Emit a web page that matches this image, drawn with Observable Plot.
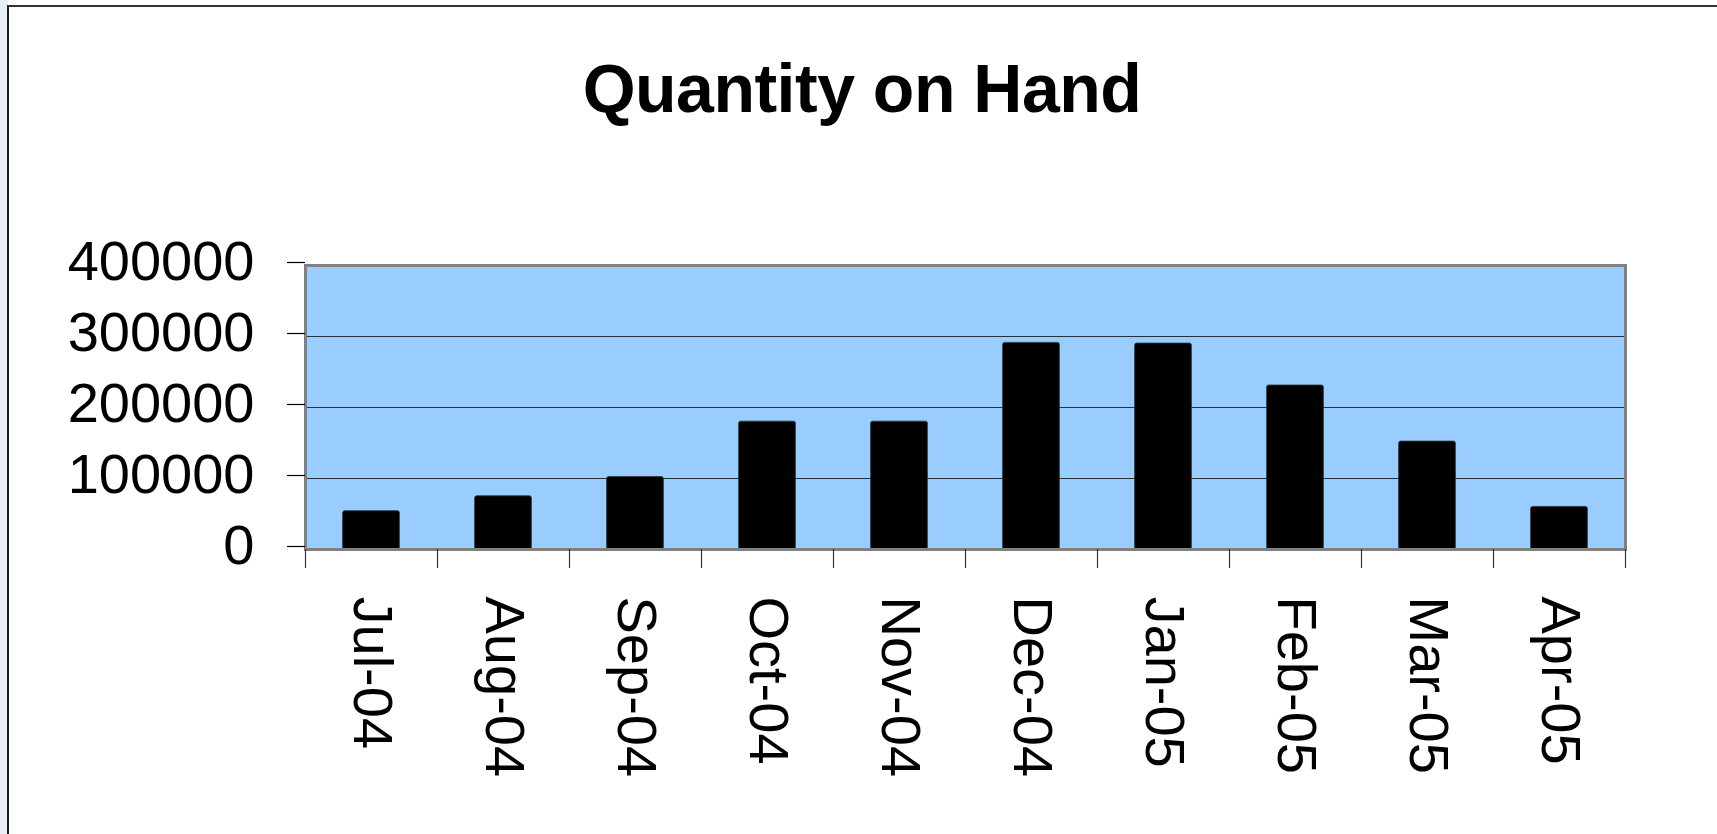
<!DOCTYPE html>
<html>
<head>
<meta charset="utf-8">
<script src="https://cdn.jsdelivr.net/npm/d3@7"></script>
<script src="https://cdn.jsdelivr.net/npm/@observablehq/plot@0.6"></script>
<style>
  html, body { margin: 0; padding: 0; width: 1717px; height: 834px; overflow: hidden; background: #ffffff; font-family: "Liberation Sans", Arial, sans-serif; }
  #strip { position: absolute; left: 0; top: 0; width: 8px; height: 834px; background: #e9edf4; }
  #sheet { position: absolute; left: 7px; top: 5px; width: 1800px; height: 900px; border-left: 2px solid #1a1a1a; border-top: 2px solid #333; background: #fff; }
  #title { position: absolute; left: 0; top: 0; width: 1724px; height: 140px; text-align: center; font: bold 68px/68px "Liberation Sans", Arial, sans-serif; color: #000; padding-top: 54px; box-sizing: border-box; letter-spacing: -0.5px; }
  #chart { position: absolute; left: 0; top: 140px; }
</style>
</head>
<body>
<div id="strip"></div>
<div id="sheet"></div>
<div id="title">Quantity on Hand</div>
<div id="chart"></div>
<script>
const months = ["Jul-04", "Aug-04", "Sep-04", "Oct-04", "Nov-04", "Dec-04", "Jan-05", "Feb-05", "Mar-05", "Apr-05"];
const quantity = [54000, 75000, 102000, 180000, 180000, 291000, 290000, 231000, 152000, 60000];
const yTicks = [0, 100000, 200000, 300000, 400000];
const gridTicks = [100000, 200000, 300000];

const data = months.map((m, i) => ({month: m, qty: quantity[i]}));

const W = 1717, H = 694;
const mL = 305, mR = 92, mT = 125, mB = 285;
const step = (W - mL - mR) / months.length;
const font = "'Liberation Sans', Arial, sans-serif";

const chart = Plot.plot({
  width: W,
  height: H,
  marginLeft: mL,
  marginRight: mR,
  marginTop: mT,
  marginBottom: mB,
  style: {fontFamily: font, background: "transparent", color: "#000", overflow: "visible"},
  x: {type: "band", domain: months, padding: 0, axis: null},
  y: {domain: [0, 400000], axis: null},
  marks: [
    Plot.frame({fill: "#99CCFF", stroke: "none"}),
    Plot.gridY(gridTicks, {stroke: "#26313c", strokeOpacity: 1, strokeWidth: 1.2}),
    Plot.barY(data, {x: "month", y: "qty", fill: "#000", stroke: "#333", strokeWidth: 0.8,
      insetLeft: step * 0.285, insetRight: step * 0.285, rx: 2}),
    Plot.frame({stroke: "#808080", strokeWidth: 3}),
    Plot.axisY({ticks: yTicks, tickSize: 18, tickPadding: 33, fontSize: 56, tickFormat: d3.format("d"),
      label: null, stroke: "#000", strokeWidth: 1.2, dy: -3}),
    Plot.axisX({ticks: months, tickSize: 19, dx: -step / 2, fill: "none", label: null, stroke: "#333", strokeWidth: 1.2}),
    Plot.axisX({ticks: [months[months.length - 1]], tickSize: 19, dx: step / 2, fill: "none", label: null, stroke: "#333", strokeWidth: 1.2}),
    Plot.text(months, {x: d => d, text: d => d, frameAnchor: "bottom", dy: 47, rotate: 90,
      textAnchor: "start", lineAnchor: "middle", fontSize: 56, fill: "#000"})
  ]
});
document.getElementById("chart").appendChild(chart);
</script>
</body>
</html>
